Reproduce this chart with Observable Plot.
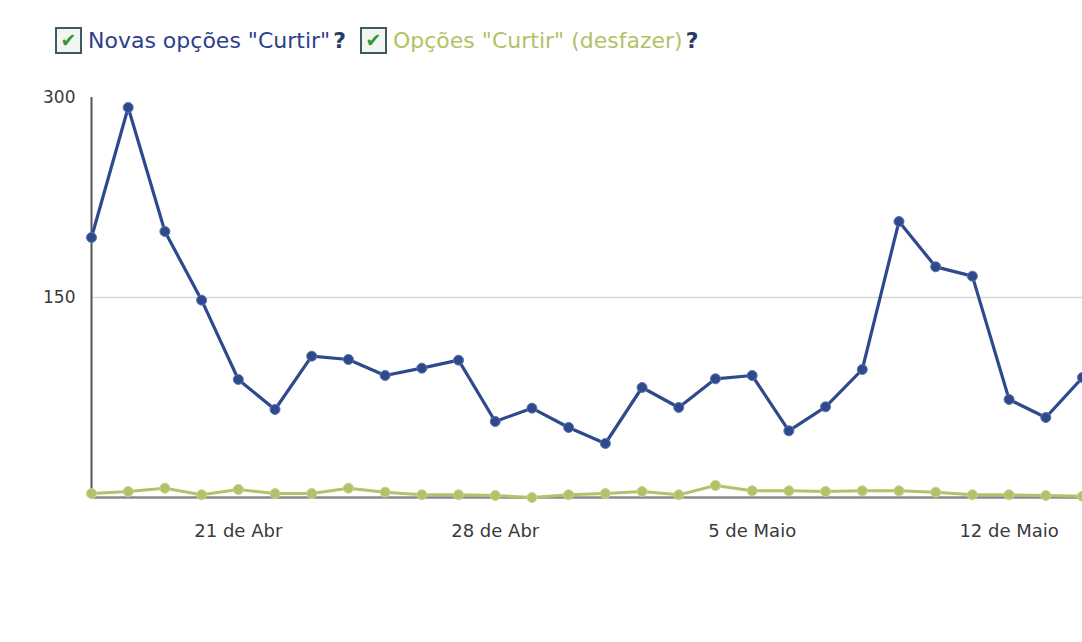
<!DOCTYPE html>
<html>
<head>
<meta charset="utf-8">
<script src="https://cdn.jsdelivr.net/npm/d3@7"></script>
<script src="https://cdn.jsdelivr.net/npm/@observablehq/plot@0.6"></script>
<style>
  body { margin: 0; background: #fff; font-family: "DejaVu Sans", sans-serif; }
  #legend { height: 70px; box-sizing: border-box; padding-top: 10px; padding-left: 55px; display: flex; align-items: center; font-size: 22px; white-space: nowrap; }
  .item { display: flex; align-items: center; margin-right: 14px; }
  .box { width: 23px; height: 23px; border: 2px solid #3c5a6a; background: #f2f6f0; color: #2e9a2e; font-size: 19px; font-weight: bold; line-height: 23px; text-align: center; margin-right: 6px; }
  .q { color: #2c3a66; font-weight: bold; margin-left: 3px; }
</style>
</head>
<body>
<div id="legend">
  <span class="item"><span class="box">✔</span><span style="color:#2d3f8a">Novas opções "Curtir"</span><span class="q">?</span></span>
  <span class="item"><span class="box">✔</span><span style="color:#b3c166">Opções "Curtir" (desfazer)</span><span class="q">?</span></span>
</div>
<div id="chart"></div>
<script>
const startDate = "2010-04-17";
const likes = [195, 292.5, 199.5, 148, 88.5, 66, 106, 103.5, 91.5, 97, 103, 57, 67, 52.5, 40.5, 82.5, 67.5, 89, 91.5, 50, 68, 96, 207, 173, 166, 73.5, 60, 90];
const unlikes = [3, 4.5, 7, 2, 6, 3, 3, 7, 4, 2, 2, 1.5, 0, 2, 3, 4.5, 2, 9, 5, 5, 4.5, 5, 5, 4, 2, 2, 1.5, 1];
const xTickDates = ["2010-04-21", "2010-04-28", "2010-05-05", "2010-05-12"];
const xTickLabels = ["21 de Abr", "28 de Abr", "5 de Maio", "12 de Maio"];
const yTicks = [150, 300];

const day0 = new Date(startDate + "T00:00:00");
const dates = likes.map((_, i) => new Date(day0.getTime() + i * 86400000));
const likeData = likes.map((v, i) => ({date: dates[i], value: v}));
const unlikeData = unlikes.map((v, i) => ({date: dates[i], value: v}));
const tickDates = xTickDates.map(s => new Date(s + "T00:00:00"));
const labelOf = new Map(tickDates.map((d, i) => [+d, xTickLabels[i]]));

const blue = "#2f4a8c";
const green = "#b1c36a";

const chart = Plot.plot({
  width: 1082,
  height: 572,
  marginLeft: 91,
  marginRight: 0,
  marginTop: 27,
  marginBottom: 145,
  style: {fontFamily: "DejaVu Sans, sans-serif", fontSize: "16px", color: "#3a3a3a", background: "#fff"},
  x: {type: "time", domain: [dates[0], dates[dates.length - 1]]},
  y: {domain: [0, 300]},
  marks: [
    Plot.ruleY([150], {stroke: "#d8d8d8", strokeWidth: 1.5}),
    Plot.ruleY([0], {stroke: "#8a8a8a", strokeWidth: 2.5}),
    Plot.ruleX([dates[0]], {y1: 0, y2: 300, stroke: "#555", strokeWidth: 2}),
    Plot.axisY({ticks: yTicks, tickSize: 0, tickPadding: 16, label: null, fill: "#3a3a3a", fontSize: 17}),
    Plot.axisX({ticks: tickDates, tickSize: 0, tickPadding: 27, label: null, fill: "#3a3a3a", fontSize: 18, tickFormat: d => labelOf.get(+d)}),
    Plot.line(unlikeData, {x: "date", y: "value", stroke: green, strokeWidth: 3}),
    Plot.dot(unlikeData, {x: "date", y: "value", r: 5, fill: green, stroke: "#c5d58a", strokeWidth: 1}),
    Plot.line(likeData, {x: "date", y: "value", stroke: blue, strokeWidth: 3.2}),
    Plot.dot(likeData, {x: "date", y: "value", r: 5, fill: blue, stroke: "#5a74ae", strokeWidth: 1})
  ]
});
document.getElementById("chart").append(chart);
</script>
</body>
</html>
